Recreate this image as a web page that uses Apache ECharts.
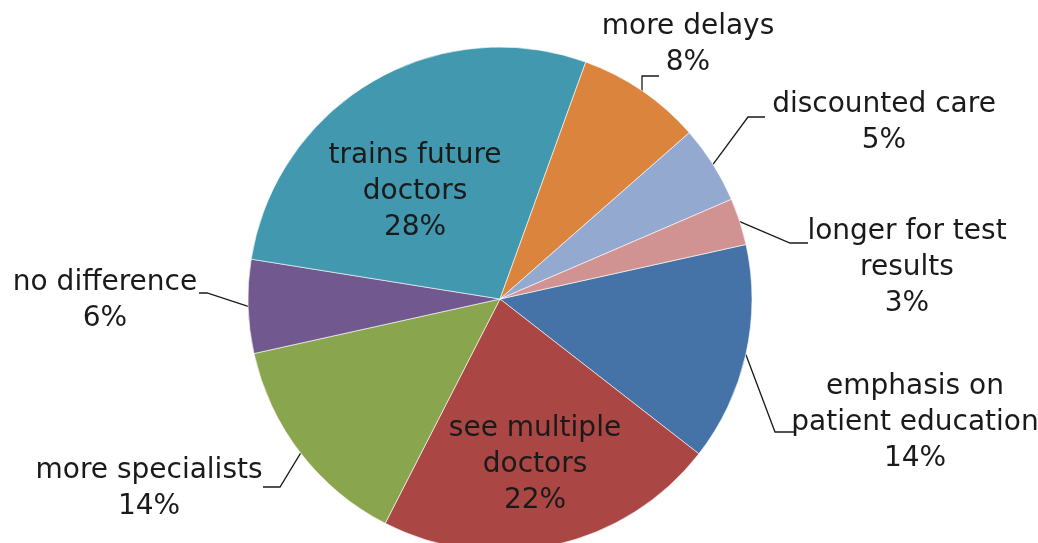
<!DOCTYPE html>
<html>
<head>
<meta charset="utf-8">
<script src="https://cdn.jsdelivr.net/npm/echarts@6/dist/echarts.min.js"></script>
<style>
  html, body { margin: 0; padding: 0; background: #fff; }
  #chart { width: 1038px; height: 543px; }
</style>
</head>
<body>
<div id="chart"></div>
<script>
// slices, clockwise from the blue one
var names = ['emphasis on\npatient education', 'see multiple\ndoctors', 'more specialists', 'no difference',
             'trains future\ndoctors', 'more delays', 'discounted care', 'longer for test\nresults']
var values = [14, 22, 14, 6, 28, 8, 5, 3]
var colors = ['#4572A7', '#AA4643', '#89A54E', '#71588F', '#4198AF', '#DB843D', '#93A9CF', '#D19392']
var insideNames = ['see multiple\ndoctors', 'trains future\ndoctors']

// where each label block sits (centre of text)
var labelPos = [
  [915, 423], [535, 465], [149, 489], [105, 301],
  [415, 192], [688, 45], [884, 123], [907, 268]
]
// leader line elbow + end next to the text (start comes from the slice)
var leaderBends = [
  [[775, 432], [795, 432]], null, [[280, 487], [263, 487]], [[207, 293], [199, 293]],
  null, [[642, 76], [659, 76]], [[748, 117], [765, 117]], [[790, 243], [808, 243]]
]

var chart = echarts.init(document.getElementById('chart'))

var data = names.map(function (n, i) {
  var inside = insideNames.indexOf(n) >= 0
  return {
    name: n,
    value: values[i],
    itemStyle: { color: colors[i] },
    label: { position: inside ? 'inside' : 'outside' },
    labelLine: { show: !inside }
  }
})

var option = {
  animation: false,
  series: [{
    type: 'pie',
    center: [500, 299],
    radius: 252,
    startAngle: 12.5,
    clockwise: true,
    avoidLabelOverlap: false,
    itemStyle: { borderColor: 'rgba(255,255,255,0.6)', borderWidth: 1 },
    label: {
      formatter: function (p) { return p.name + '\n' + p.value + '%' },
      fontFamily: 'DejaVu Sans',
      fontSize: 28,
      lineHeight: 36,
      color: '#1a1a1a',
      align: 'center'
    },
    labelLine: {
      length: 20,
      length2: 16,
      lineStyle: { color: '#1a1a1a', width: 1.3 }
    },
    labelLayout: function (p) {
      var pos = labelPos[p.dataIndex]
      var res = { x: pos[0], y: pos[1], align: 'center', verticalAlign: 'middle' }
      var bend = leaderBends[p.dataIndex]
      if (bend && p.labelLinePoints) {
        res.labelLinePoints = [p.labelLinePoints[0], bend[0], bend[1]]
      }
      return res
    },
    data: data
  }]
}
chart.setOption(option)
</script>
</body>
</html>
